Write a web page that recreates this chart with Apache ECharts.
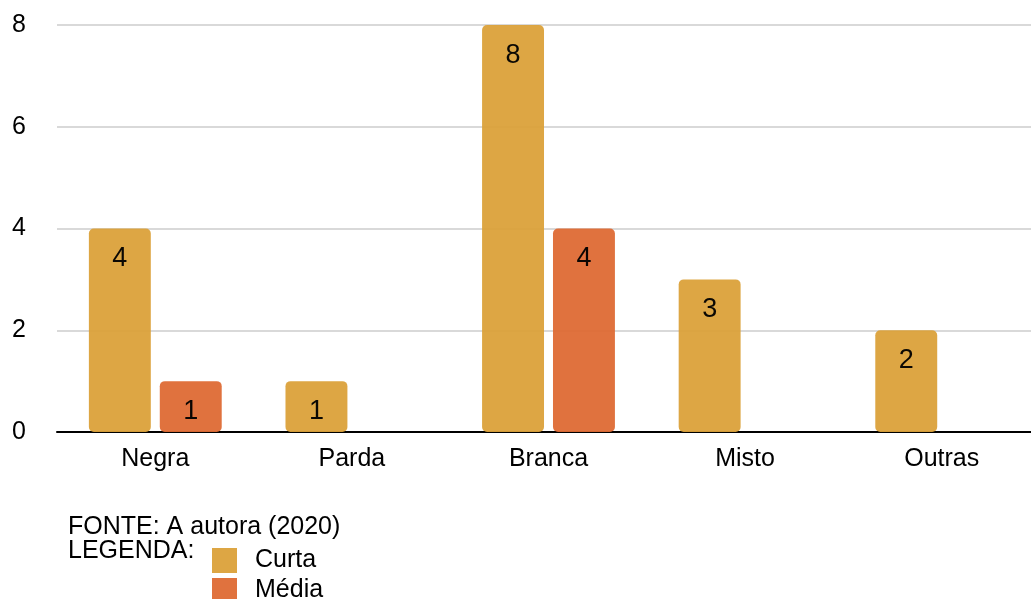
<!DOCTYPE html>
<html>
<head>
<meta charset="utf-8">
<script src="https://cdn.jsdelivr.net/npm/echarts@6/dist/echarts.min.js"></script>
<style>
  html, body { margin: 0; padding: 0; background: #fff; }
  #chart { width: 1031px; height: 599px; }
</style>
</head>
<body>
<div id="chart"></div>
<script>
// Categories and counts per group
const categories = ['Negra', 'Parda', 'Branca', 'Misto', 'Outras'];
const curta = [4, 1, 8, 3, 2];
const media = [1, null, 4, null, null];
const yTicks = [0, 2, 4, 6, 8];

const chart = echarts.init(document.getElementById('chart'));
const FONT = '"Liberation Sans", Arial, sans-serif';
const GOLD = '#DBA13A';
const ORANGE = '#DE6A34';

// One legend box per entry so they stack at the bottom edge
function legendBox(name, top) {
  return {
    orient: 'vertical',
    left: 212,
    top: top,
    padding: 0,
    itemWidth: 25,
    itemHeight: 25,
    icon: 'rect',
    selectedMode: false,
    textStyle: { fontSize: 25, color: '#000', fontFamily: FONT, padding: [4, 0, 0, 13] },
    data: [name]
  };
}

const labelStyle = {
  show: true, position: 'insideTop', distance: 17,
  fontSize: 27, color: '#000', fontFamily: FONT
};

chart.setOption({
  animation: false,
  textStyle: { fontFamily: FONT },
  // plot area runs slightly past the right edge of the canvas
  grid: {
    left: 57, width: 983, top: 25, height: 407,
    containLabel: false, outerBoundsMode: 'none'
  },
  legend: [legendBox('Curta', 548), legendBox('Média', 578)],
  xAxis: {
    type: 'category',
    data: categories,
    axisLine: { lineStyle: { color: '#000', width: 2 } },
    axisTick: { show: false },
    axisLabel: { fontSize: 25, color: '#000', margin: 15, fontFamily: FONT }
  },
  yAxis: {
    type: 'value',
    min: yTicks[0],
    max: yTicks[yTicks.length - 1],
    interval: 2,
    axisLine: { show: false },
    axisTick: { show: false },
    axisLabel: { fontSize: 25, color: '#000', margin: 31, fontFamily: FONT },
    splitLine: { lineStyle: { color: '#d9d9d9', width: 2 } }
  },
  series: [
    {
      name: 'Curta',
      type: 'bar',
      data: curta,
      barWidth: '31.5%',
      barGap: '14.5%',
      itemStyle: { color: GOLD, opacity: 0.95, borderRadius: 5 },
      label: labelStyle
    },
    {
      name: 'Média',
      type: 'bar',
      data: media,
      barWidth: '31.5%',
      itemStyle: { color: ORANGE, opacity: 0.95, borderRadius: 5 },
      label: labelStyle
    }
  ],
  graphic: [
    { type: 'text', left: 68, top: 515, style: { text: 'FONTE: A autora (2020)', fontSize: 25, fill: '#000', fontFamily: FONT } },
    { type: 'text', left: 68, top: 539, style: { text: 'LEGENDA:', fontSize: 25, fill: '#000', fontFamily: FONT } }
  ]
});
</script>
</body>
</html>
